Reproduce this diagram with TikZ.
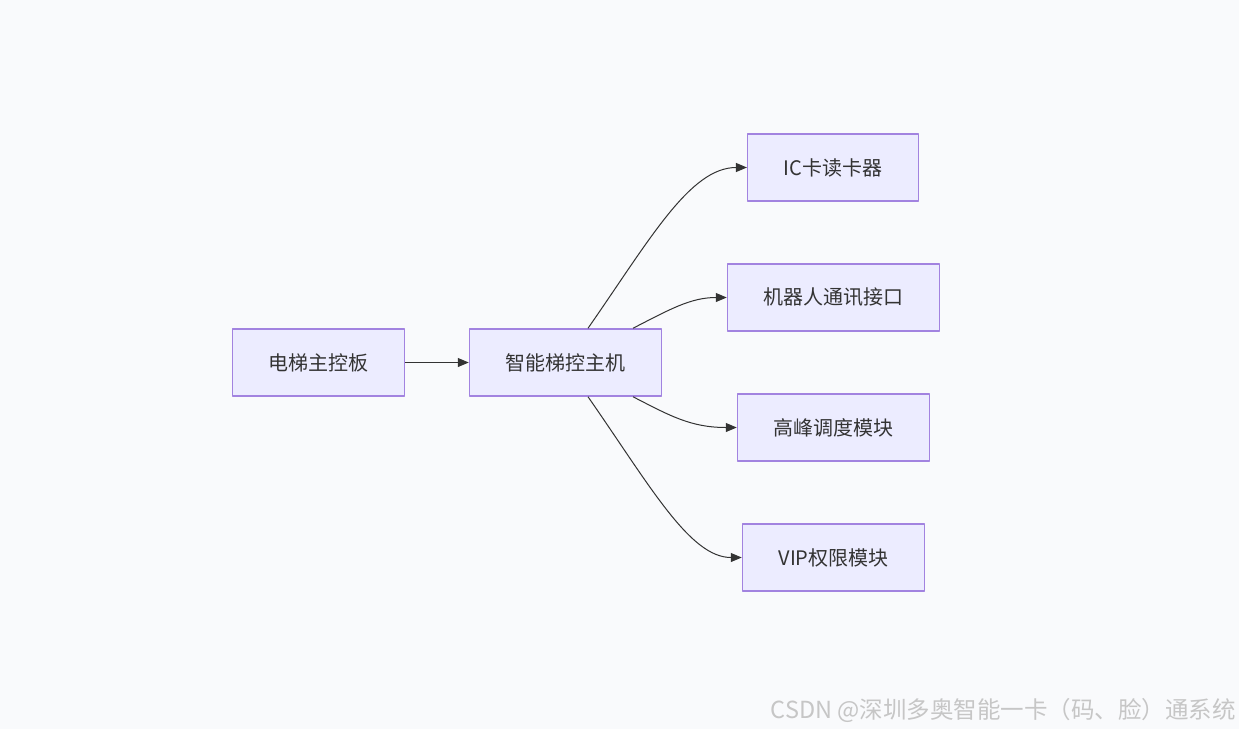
\documentclass[tikz,border=0pt]{standalone}
\usepackage{fontspec}
\newfontfamily\cjk{Noto Sans CJK SC}
\usetikzlibrary{arrows.meta}
\definecolor{boxfill}{HTML}{ECECFF}
\definecolor{boxline}{HTML}{A283E0}
\definecolor{linkcol}{HTML}{333333}
\definecolor{bgcol}{HTML}{F9FAFC}
\definecolor{markcol}{HTML}{C6C6C6}
\tikzset{
  module/.style={draw=boxline, fill=boxfill, line width=1.5pt, inner xsep=36pt,
    minimum height=67pt, text=linkcol, font=\cjk\fontsize{20}{24}\selectfont},
  link/.style={->, draw=linkcol, line width=1pt}
}
\begin{document}
\begin{tikzpicture}[x=1pt, y=-1pt, line join=round, >={Triangle[length=11pt, width=9pt]}]
	\fill[bgcol] (0,0) rectangle (1239,729);
	\useasboundingbox (0,0) rectangle (1239,729);
	% nodes
	\node[module] (main) at (318.5,362.5) {电梯主控板};
	\node[module] (host) at (565.5,362.5) {智能梯控主机};
	\node[module] (card) at (833,167.5) {IC卡读卡器};
	\node[module] (robot) at (833.5,297.5) {机器人通讯接口};
	\node[module] (peak) at (833.5,427.5) {高峰调度模块};
	\node[module] (vip) at (833.5,557.5) {VIP权限模块};
	% links
	\draw[link] (main) -- (host);
	\draw[link] ([xshift=22.5pt]host.north) .. controls +(62,-89) and +(-57,0) .. (card.west);
	\draw[link] ([xshift=67.5pt]host.north) .. controls +(37,-19) and +(-36,0) .. (robot.west);
	\draw[link] ([xshift=67.5pt]host.south) .. controls +(37,19) and +(-46,0) .. (peak.west);
	\draw[link] ([xshift=22.5pt]host.south) .. controls +(62,89) and +(-52,0) .. (vip.west);
	% watermark
	\node[anchor=east, text=markcol, inner sep=0pt, font=\cjk\fontsize{23.5}{28}\selectfont] (mark) at (1236,710) {CSDN @深圳多奥智能一卡（码、脸）通系统};
\end{tikzpicture}
\end{document}
